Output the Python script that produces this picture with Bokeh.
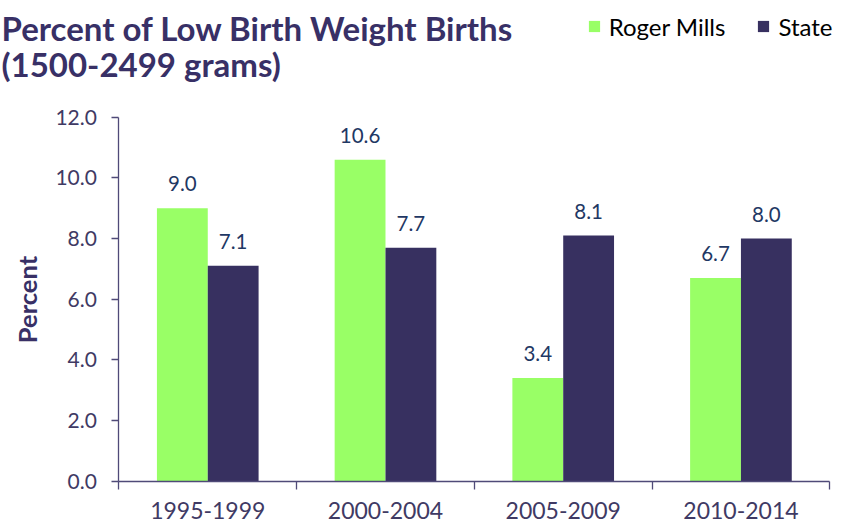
from bokeh.plotting import figure
from bokeh.models import (ColumnDataSource, FixedTicker, NumeralTickFormatter, Range1d,
                          LabelSet, Label, Legend, LegendItem)
from bokeh.transform import dodge
from bokeh.embed import file_html
from bokeh.resources import INLINE
from bokeh.core.properties import value

# ---- data ----
categories = ["1995-1999", "2000-2004", "2005-2009", "2010-2014"]
roger_mills = [9.0, 10.6, 3.4, 6.7]
state = [7.1, 7.7, 8.1, 8.0]
series_names = ["Roger Mills", "State"]
y_ticks = [0, 2, 4, 6, 8, 10, 12]
y_max = 12
title_lines = ["Percent of Low Birth Weight Births", "(1500-2499 grams)"]
y_axis_title = "Percent"

# ---- layout (pixels) ----
W, H = 858, 528
PX_LEFT, PX_RIGHT = 118.4, 829.3      # where x = 0 and x = n fall
PX_BASE, PX_TOP = 480.7, 116.7        # where y = 0 and y = y_max fall
n = len(categories)
xu = (PX_RIGHT - PX_LEFT) / n
yu = (PX_BASE - PX_TOP) / y_max
x_range = Range1d(-PX_LEFT / xu, n + (W - PX_RIGHT) / xu)
y_range = Range1d(-(H - PX_BASE) / yu, y_max + PX_TOP / yu)

GREEN = "#99FF66"
NAVY = "#373060"
TITLE_C = "#383066"
TICK_C = "#3F3A64"
AXIS_C = "#4F4A78"
DATA_C = "#1F3864"
FONT = "Lato"

BAR_W = 0.286
OFF = BAR_W / 2

src = ColumnDataSource(dict(
    xc=[i + 0.5 for i in range(n)],
    rm=roger_mills,
    st=state,
    rm_lbl=[f"{v:.1f}" for v in roger_mills],
    st_lbl=[f"{v:.1f}" for v in state],
))

p = figure(width=W, height=H, x_range=x_range, y_range=y_range, title=None,
           output_backend="svg", toolbar_location=None,
           min_border_left=0, min_border_right=0, min_border_top=0, min_border_bottom=0)
p.outline_line_color = None
p.xgrid.visible = False
p.ygrid.visible = False

r1 = p.vbar(x=dodge("xc", -OFF, range=p.x_range), top="rm", width=BAR_W, source=src,
            fill_color=GREEN, line_color=None)
r2 = p.vbar(x=dodge("xc", OFF, range=p.x_range), top="st", width=BAR_W, source=src,
            fill_color=NAVY, line_color=None)

# data labels
for col, lbl, off in (("rm", "rm_lbl", -OFF), ("st", "st_lbl", OFF)):
    p.add_layout(LabelSet(x=dodge("xc", off, range=p.x_range), y=col, text=lbl, source=src,
                          y_offset=17, text_align="center", text_baseline="alphabetic",
                          text_font=value(FONT), text_font_size=value("20.5px"),
                          text_color=DATA_C))

# x axis: labels at category centres, ticks at category boundaries
xa = p.xaxis[0]
xa.fixed_location = 0
xa.bounds = (0, n)
xa.ticker = FixedTicker(ticks=[i + 0.5 for i in range(n)], minor_ticks=list(range(n + 1)))
xa.major_label_overrides = {i + 0.5: c for i, c in enumerate(categories)}
xa.major_tick_line_color = None
xa.minor_tick_out = 8
xa.minor_tick_in = 0
xa.minor_tick_line_color = AXIS_C
xa.minor_tick_line_width = 1.3
xa.axis_line_color = AXIS_C
xa.axis_line_width = 1.3
xa.major_label_text_font = FONT
xa.major_label_text_font_size = "23px"
xa.major_label_text_color = TICK_C
xa.major_label_standoff = 13

# y axis
ya = p.yaxis[0]
ya.fixed_location = 0
ya.bounds = (0, y_max)
ya.ticker = FixedTicker(ticks=y_ticks)
ya.formatter = NumeralTickFormatter(format="0.0")
ya.major_tick_out = 7
ya.major_tick_in = 0
ya.minor_tick_line_color = None
ya.axis_line_color = AXIS_C
ya.major_tick_line_color = AXIS_C
ya.axis_line_width = 1.3
ya.major_tick_line_width = 1.3
ya.major_label_text_font = FONT
ya.major_label_text_font_size = "21px"
ya.major_label_text_color = TICK_C
ya.major_label_standoff = 15
ya.axis_label = y_axis_title
ya.axis_label_text_font = FONT
ya.axis_label_text_font_style = "bold"
ya.axis_label_text_font_size = "25.5px"
ya.axis_label_text_color = TITLE_C
ya.axis_label_standoff = 10

# legend
legend = Legend(items=[LegendItem(label=series_names[0], renderers=[r1]),
                       LegendItem(label=series_names[1], renderers=[r2])],
                orientation="horizontal", location=(586.7, H - 40.8),
                glyph_width=14, glyph_height=14, label_standoff=8, spacing=31,
                padding=0, margin=0, border_line_color=None, background_fill_alpha=0,
                label_text_font=FONT, label_text_font_size="24px",
                label_text_color="#000000")
p.add_layout(legend, "center")

# title, two lines at the top-left corner
title_pos = [(1, 27.5), (1, 63)]   # left end, baseline (canvas px from top-left)
for text, (lx, by) in zip(title_lines, title_pos):
    p.add_layout(Label(x=lx, y=H - by, x_units="screen", y_units="screen", text=text,
                       text_align="left", text_baseline="alphabetic", text_font=FONT,
                       text_font_style="bold", text_font_size="33px", text_color=TITLE_C))

open("out.html", "w").write(file_html(p, INLINE))
